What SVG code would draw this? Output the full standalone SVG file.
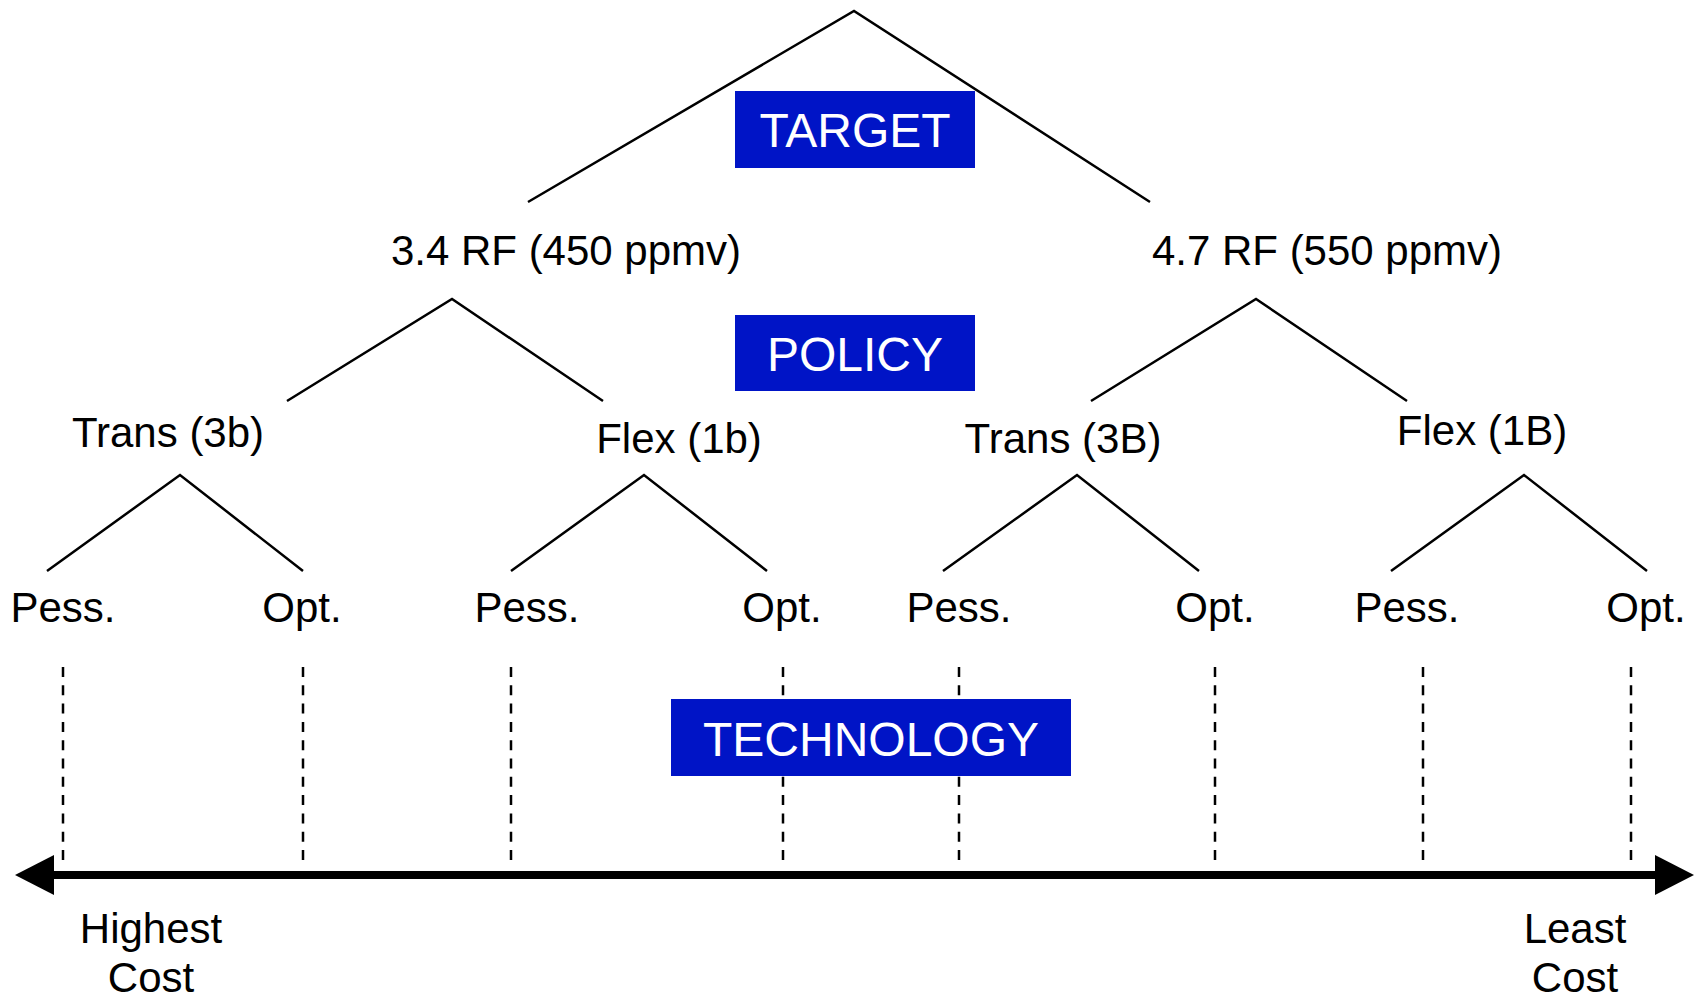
<svg xmlns="http://www.w3.org/2000/svg" width="1702" height="999" viewBox="0 0 1702 999">
  <style>
    .lbl { font-family: "Liberation Sans", Arial, Helvetica, sans-serif; font-size: 42px; fill: #000; text-anchor: middle; }
    .hdr { font-family: "Liberation Sans", Arial, Helvetica, sans-serif; font-size: 48px; fill: #fff; text-anchor: middle; }
    .box { fill: #0014c6; }
    .edge { stroke: #000; stroke-width: 2.5; fill: none; stroke-linejoin: miter; }
    .dash { stroke: #000; stroke-width: 2.5; stroke-dasharray: 10 8.3; fill: none; }
    .axis { stroke: #000; stroke-width: 8; fill: none; }
  </style>
  <rect width="1702" height="999" fill="#fff"/>

  <g id="connectors">
    <polyline class="edge" points="528,202 854,11 1150,202"/>
    <polyline class="edge" points="287,401 452,299 603,401"/>
    <polyline class="edge" points="1091,401 1256,299 1407,401"/>
    <polyline class="edge" points="47,571 180,475 303,571"/>
    <polyline class="edge" points="511,571 644,475 767,571"/>
    <polyline class="edge" points="943,571 1077,475 1199,571"/>
    <polyline class="edge" points="1391,571 1524,475 1647,571"/>
    <g id="dashes">
      <line class="dash" x1="63" y1="667" x2="63" y2="866"/>
      <line class="dash" x1="303" y1="667" x2="303" y2="866"/>
      <line class="dash" x1="511" y1="667" x2="511" y2="866"/>
      <line class="dash" x1="783" y1="667" x2="783" y2="866"/>
      <line class="dash" x1="959" y1="667" x2="959" y2="866"/>
      <line class="dash" x1="1215" y1="667" x2="1215" y2="866"/>
      <line class="dash" x1="1423" y1="667" x2="1423" y2="866"/>
      <line class="dash" x1="1631" y1="667" x2="1631" y2="866"/>
    </g>
    <g id="axis">
      <line class="axis" x1="50" y1="875" x2="1659" y2="875"/>
      <polygon points="15,875 54,855 54,895" fill="#000"/>
      <polygon points="1694,875 1655,855 1655,895" fill="#000"/>
    </g>
  </g>

  <g id="target">
    <rect class="box" x="735" y="91" width="240" height="77"/>
    <text class="hdr" x="855" y="147">TARGET</text>
  </g>
  <g id="policy">
    <rect class="box" x="735" y="315" width="240" height="76"/>
    <text class="hdr" x="855" y="371">POLICY</text>
  </g>
  <g id="technology">
    <rect class="box" x="671" y="699" width="400" height="77"/>
    <text class="hdr" x="871" y="756">TECHNOLOGY</text>
  </g>

  <g id="rf34"><text class="lbl" x="566" y="265">3.4 RF (450 ppmv)</text></g>
  <g id="rf47"><text class="lbl" x="1327" y="265">4.7 RF (550 ppmv)</text></g>

  <g id="trans3b"><text class="lbl" x="168" y="447">Trans (3b)</text></g>
  <g id="flex1b"><text class="lbl" x="679" y="453">Flex (1b)</text></g>
  <g id="trans3B"><text class="lbl" x="1063" y="453">Trans (3B)</text></g>
  <g id="flex1B"><text class="lbl" x="1482" y="445">Flex (1B)</text></g>

  <g id="pess1"><text class="lbl" x="63" y="622">Pess.</text></g>
  <g id="opt1"><text class="lbl" x="302" y="622">Opt.</text></g>
  <g id="pess2"><text class="lbl" x="527" y="622">Pess.</text></g>
  <g id="opt2"><text class="lbl" x="782" y="622">Opt.</text></g>
  <g id="pess3"><text class="lbl" x="959" y="622">Pess.</text></g>
  <g id="opt3"><text class="lbl" x="1215" y="622">Opt.</text></g>
  <g id="pess4"><text class="lbl" x="1407" y="622">Pess.</text></g>
  <g id="opt4"><text class="lbl" x="1646" y="622">Opt.</text></g>

  <g id="highest">
    <text class="lbl" x="151" y="943">Highest</text>
    <text class="lbl" x="151" y="992">Cost</text>
  </g>
  <g id="least">
    <text class="lbl" x="1575" y="943">Least</text>
    <text class="lbl" x="1575" y="992">Cost</text>
  </g>
</svg>
